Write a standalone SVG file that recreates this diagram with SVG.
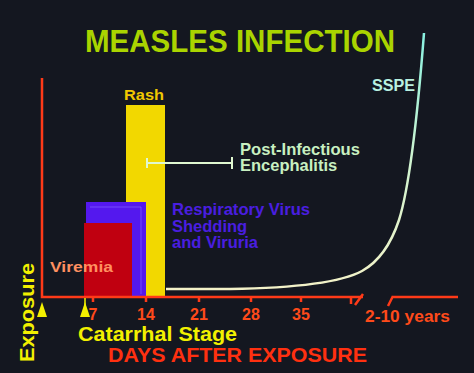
<svg xmlns="http://www.w3.org/2000/svg" width="474" height="373" viewBox="0 0 474 373">
<style>
text{font-family:"Liberation Sans",Arial,sans-serif;font-weight:bold}
.axis{stroke:#ff3a18;stroke-width:2.5;fill:none}
.tick{fill:#ff4a1a;font-size:16px;text-anchor:middle}
.ylw{fill:#f2f000}
.pie{stroke:#e0f8d0;stroke-width:2;fill:none}
.resp{fill:#4a1ee0;font-size:16.5px}
.pie-t{fill:#c8f0c0;font-size:16.5px}
</style>
<defs>
<linearGradient id="sspeGrad" gradientUnits="userSpaceOnUse" x1="0" y1="290" x2="0" y2="33">
<stop offset="0" stop-color="#f4f2c8"/>
<stop offset="0.5" stop-color="#d0f4d0"/>
<stop offset="1" stop-color="#88f0e0"/>
</linearGradient>
</defs>
<rect width="474" height="373" fill="#141720"/>
<g id="title"><text x="85" y="52" font-size="31" fill="#aad400" textLength="310" lengthAdjust="spacingAndGlyphs">MEASLES INFECTION</text></g>
<g id="rash"><rect x="126" y="105" width="39" height="191" fill="#f2d800"/><text x="124" y="100" font-size="15.5" fill="#f0c800" textLength="40" lengthAdjust="spacingAndGlyphs">Rash</text></g>
<g id="respiratory"><rect x="86" y="202" width="60" height="94" fill="#5418ee"/><path d="M90,207 H141 V294" fill="none" stroke="#8a70ff" stroke-width="1" opacity="0.6"/>
<text class="resp" x="172" y="215" textLength="138" lengthAdjust="spacingAndGlyphs">Respiratory Virus</text>
<text class="resp" x="172" y="232">Shedding</text>
<text class="resp" x="172" y="248">and Viruria</text></g>
<g id="viremia"><rect x="84" y="223" width="48" height="73" fill="#c00010"/><text x="50" y="272" font-size="15.5" fill="#ff9060" textLength="63" lengthAdjust="spacingAndGlyphs">Viremia</text></g>
<g id="encephalitis"><path class="pie" d="M147,163 H232 M147,158 V168 M232,157 V169"/>
<text class="pie-t" x="240" y="155" textLength="120" lengthAdjust="spacingAndGlyphs">Post-Infectious</text>
<text class="pie-t" x="240" y="171">Encephalitis</text></g>
<g id="sspe"><text x="372" y="91" font-size="16" fill="#b8f0e0" textLength="43" lengthAdjust="spacingAndGlyphs">SSPE</text></g>
<g id="connectors">
<path d="M166,289 L230,289 C295,288 340,283 362,271 C380,261 391,244 399,220 C410,185 418,110 424,33" fill="none" stroke="url(#sspeGrad)" stroke-width="2.5"/>
<path class="axis" d="M42,78 V297 H363"/>
<path class="axis" d="M93,297 V302 M146,297 V302 M199,297 V302 M251,297 V302 M301,297 V302 M351,297 V304 M355,305 L363,294 M388,306 L393,296 M392,297 H458" stroke-width="2.2"/>
<path class="ylw" d="M42,302 L37,317 L47,317 Z M85,302 L80,317 L90,317 Z"/>
<path d="M85,298 V305" stroke="#f2f000" stroke-width="1.5"/>
</g>
<g id="axis-labels">
<text class="tick" x="93" y="320">7</text>
<text class="tick" x="146" y="320">14</text>
<text class="tick" x="199" y="320">21</text>
<text class="tick" x="251" y="320">28</text>
<text class="tick" x="301" y="320">35</text>
<text x="365" y="322" font-size="17" fill="#ff4a1a" textLength="85" lengthAdjust="spacingAndGlyphs">2-10 years</text>
<text class="ylw" x="78" y="341" font-size="21" textLength="159" lengthAdjust="spacingAndGlyphs">Catarrhal Stage</text>
<text x="108" y="362" font-size="20.5" fill="#ff3010" textLength="259" lengthAdjust="spacingAndGlyphs">DAYS AFTER EXPOSURE</text>
<text class="ylw" transform="translate(34,362) rotate(-90)" font-size="21" textLength="99" lengthAdjust="spacingAndGlyphs">Exposure</text>
</g>
</svg>
